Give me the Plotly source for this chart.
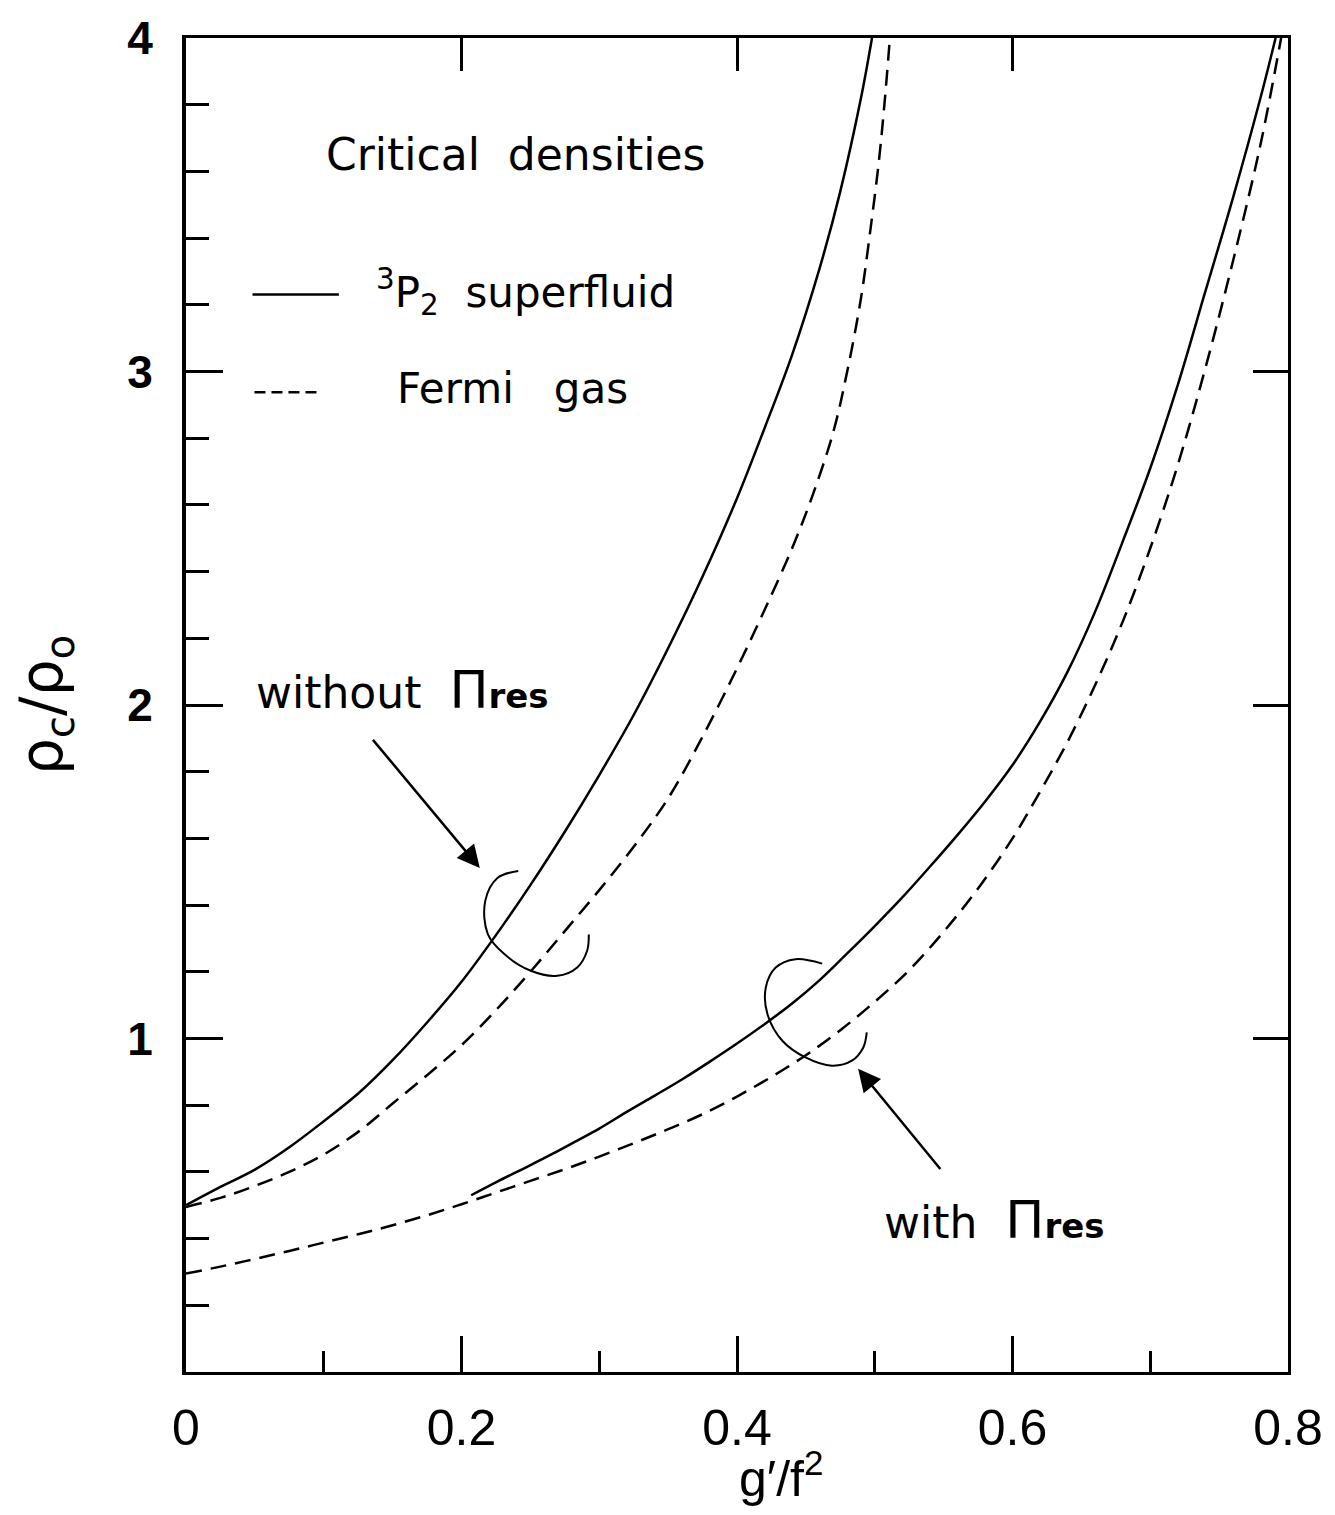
import plotly.graph_objects as go

# ---------------- data ----------------
# 3P2 superfluid, without Pi_res (upper solid)
sf_without_x = [0.00, 0.025, 0.05, 0.075, 0.10, 0.125, 0.15, 0.175, 0.20, 0.225, 0.25, 0.275,
                0.30, 0.325, 0.35, 0.375, 0.40, 0.42, 0.44, 0.46, 0.475, 0.49, 0.498]
sf_without_y = [0.50, 0.555, 0.607, 0.674, 0.752, 0.835, 0.935, 1.048, 1.17, 1.31, 1.46, 1.62,
                1.79, 1.97, 2.17, 2.385, 2.62, 2.83, 3.05, 3.31, 3.54, 3.82, 4.0]

# Fermi gas, without Pi_res (upper dashed)
fg_without_x = [0.00, 0.025, 0.05, 0.075, 0.10, 0.125, 0.15, 0.175, 0.20, 0.225, 0.25, 0.275,
                0.30, 0.325, 0.35, 0.375, 0.40, 0.42, 0.44, 0.455, 0.47, 0.48, 0.49, 0.497,
                0.503, 0.507, 0.511]
fg_without_y = [0.495, 0.522, 0.558, 0.60, 0.652, 0.72, 0.805, 0.89, 0.98, 1.085, 1.20, 1.322,
                1.445, 1.575, 1.72, 1.905, 2.11, 2.285, 2.47, 2.63, 2.82, 3.00, 3.22, 3.43,
                3.63, 3.80, 4.0]

# 3P2 superfluid, with Pi_res (lower solid)
sf_with_x = [0.207, 0.226, 0.248, 0.267, 0.284, 0.30, 0.32, 0.34, 0.36, 0.38, 0.40, 0.42, 0.44,
             0.46, 0.48, 0.50, 0.52, 0.54, 0.56, 0.58, 0.60, 0.62, 0.64, 0.66, 0.68, 0.70,
             0.72, 0.74, 0.76, 0.78, 0.791]
sf_with_y = [0.53, 0.571, 0.616, 0.656, 0.694, 0.73, 0.78, 0.828, 0.877, 0.93, 0.985, 1.043, 1.105,
             1.175, 1.255, 1.337, 1.423, 1.515, 1.61, 1.71, 1.82, 1.95, 2.10, 2.28, 2.49, 2.71,
             2.96, 3.24, 3.52, 3.82, 4.0]

# Fermi gas, with Pi_res (lower dashed)
fg_with_x = [0.00, 0.025, 0.05, 0.075, 0.10, 0.125, 0.15, 0.175, 0.20, 0.225, 0.25, 0.275, 0.30,
             0.325, 0.35, 0.375, 0.40, 0.425, 0.45, 0.475, 0.50, 0.525, 0.55, 0.575, 0.60, 0.62,
             0.64, 0.66, 0.68, 0.70, 0.72, 0.74, 0.76, 0.78, 0.795]
fg_with_y = [0.295, 0.316, 0.339, 0.363, 0.388, 0.413, 0.44, 0.47, 0.503, 0.538, 0.573, 0.608, 0.646,
             0.686, 0.728, 0.773, 0.826, 0.885, 0.95, 1.025, 1.11, 1.205, 1.32, 1.45, 1.60, 1.74,
             1.89, 2.06, 2.25, 2.47, 2.72, 3.01, 3.33, 3.68, 4.0]

x_tick_vals = [0, 0.2, 0.4, 0.6, 0.8]
x_tick_text = ["0", "0.2", "0.4", "0.6", "0.8"]
y_tick_vals = [1, 2, 3, 4]
y_tick_text = ["1", "2", "3", "4"]

# annotation decorations (hand-drawn loops marking each pair of curves)
loop_without_x = [0.2412, 0.2263, 0.2172, 0.2191, 0.2311, 0.2503, 0.2695, 0.2840, 0.2912, 0.2924]
loop_without_y = [1.502, 1.482, 1.412, 1.313, 1.253, 1.203, 1.188, 1.213, 1.263, 1.312]
loop_with_x = [0.4618, 0.4425, 0.4281, 0.4209, 0.4221, 0.4329, 0.4497, 0.4690, 0.4834, 0.4917, 0.4942]
loop_with_y = [1.2245, 1.2377, 1.2126, 1.1527, 1.0732, 0.9933, 0.9433, 0.9185, 0.9334, 0.9732, 1.0181]

# ---------------- figure ----------------
TXT = "DejaVu Sans, Liberation Sans, sans-serif"
NUM = "Liberation Sans, Arial, sans-serif"
BLK = "black"

fig = go.Figure()
fig.add_trace(go.Scatter(x=sf_without_x, y=sf_without_y, mode="lines",
                         line=dict(color=BLK, width=2.5, shape="spline", smoothing=1.0), hoverinfo="skip"))
fig.add_trace(go.Scatter(x=fg_without_x, y=fg_without_y, mode="lines",
                         line=dict(color=BLK, width=2.5, dash="16px,9px", shape="spline", smoothing=1.0),
                         hoverinfo="skip"))
fig.add_trace(go.Scatter(x=sf_with_x, y=sf_with_y, mode="lines",
                         line=dict(color=BLK, width=2.5, shape="spline", smoothing=1.0), hoverinfo="skip"))
fig.add_trace(go.Scatter(x=fg_with_x, y=fg_with_y, mode="lines",
                         line=dict(color=BLK, width=2.5, dash="16px,9px", shape="spline", smoothing=1.0),
                         hoverinfo="skip"))
fig.add_trace(go.Scatter(x=loop_without_x, y=loop_without_y, mode="lines",
                         line=dict(color=BLK, width=2, shape="spline"), hoverinfo="skip"))
fig.add_trace(go.Scatter(x=loop_with_x, y=loop_with_y, mode="lines",
                         line=dict(color=BLK, width=2, shape="spline"), hoverinfo="skip"))
# carrier for the mirrored top/right axes
fig.add_trace(go.Scatter(x=[None], y=[None], xaxis="x2", yaxis="y2", mode="lines", hoverinfo="skip"))

fig.update_layout(
    width=1335, height=1515,
    margin=dict(l=186, r=39, t=35, b=143),
    paper_bgcolor="white", plot_bgcolor="white",
    showlegend=False,
    xaxis=dict(range=[0, 0.8], showline=True, linecolor=BLK, linewidth=3,
               showgrid=False, zeroline=False,
               ticks="inside", tickvals=x_tick_vals, ticktext=x_tick_text,
               ticklen=36, tickwidth=2.5, tickcolor=BLK, ticklabelstandoff=10,
               tickfont=dict(family=NUM, size=50, color=BLK),
               minor=dict(tickvals=[0.1, 0.3, 0.5, 0.7], ticks="inside", ticklen=21,
                          tickwidth=2.5, tickcolor=BLK, showgrid=False)),
    yaxis=dict(range=[0, 4], showline=True, linecolor=BLK, linewidth=4,
               showgrid=False, zeroline=False,
               ticks="inside", tickvals=y_tick_vals, ticktext=y_tick_text,
               ticklen=37, tickwidth=2.5, tickcolor=BLK, ticklabelstandoff=20,
               tickfont=dict(family=NUM, size=46, color=BLK, weight="bold"),
               minor=dict(dtick=0.2, tick0=0, ticks="inside", ticklen=23,
                          tickwidth=2.5, tickcolor=BLK, showgrid=False)),
    xaxis2=dict(overlaying="x", side="top", range=[0, 0.8], showline=True, linecolor=BLK,
                linewidth=3, showgrid=False, zeroline=False, ticks="inside",
                tickvals=[0.2, 0.4, 0.6], ticklen=33, tickwidth=2.5, tickcolor=BLK,
                showticklabels=False),
    yaxis2=dict(overlaying="y", side="right", range=[0, 4], showline=True, linecolor=BLK,
                linewidth=3, showgrid=False, zeroline=False, ticks="inside",
                tickvals=[1, 2, 3], ticklen=35, tickwidth=2.5, tickcolor=BLK,
                showticklabels=False),
)

# legend sample lines
fig.add_shape(type="line", xref="x", yref="y", x0=0.0483, x1=0.111, y0=3.231, y1=3.231,
              line=dict(color=BLK, width=2.5))
fig.add_shape(type="line", xref="x", yref="y", x0=0.0497, x1=0.098, y0=2.938, y1=2.938,
              line=dict(color=BLK, width=2.5, dash="11px,6px"))

NB = "\u00a0"
texts = [
    ("Critical" + NB + NB + "densities", 0.1002, 3.650, 44),
    ("<sup>3</sup>P<sub>2</sub>" + NB + NB + "superfluid", 0.1362, 3.237, 42),
    ("Fermi" + NB + NB + NB + "gas", 0.152, 2.950, 42),
    ("without" + NB + NB + "<span style='font-size:52px'>Π</span><span style='font-size:34px;font-weight:bold'>res</span>",
     0.0497, 2.046, 44),
    ("with" + NB + NB + "<span style='font-size:52px'>Π</span><span style='font-size:34px;font-weight:bold'>res</span>",
     0.5052, 0.4548, 44),
]
for t, x, y, s in texts:
    fig.add_annotation(text=t, x=x, y=y, xref="x", yref="y", xanchor="left", yanchor="middle",
                       showarrow=False, font=dict(family=TXT, size=s, color=BLK))

# arrows
fig.add_annotation(x=0.2133, y=1.511, ax=0.1348, ay=1.90, xref="x", yref="y", axref="x", ayref="y",
                   text="", showarrow=True, arrowhead=2, arrowsize=1.8, arrowwidth=2.5, arrowcolor=BLK)
fig.add_annotation(x=0.4879, y=0.9095, ax=0.5485, ay=0.6043, xref="x", yref="y", axref="x", ayref="y",
                   text="", showarrow=True, arrowhead=2, arrowsize=1.8, arrowwidth=2.5, arrowcolor=BLK)

# axis titles
fig.add_annotation(text="ρ<sub>c</sub>/ρ<sub>o</sub>", xref="paper", yref="paper",
                   x=-0.127, y=0.5, xanchor="center", yanchor="middle", textangle=-90,
                   showarrow=False, font=dict(family=TXT, size=58, color=BLK))
fig.add_annotation(text="g′/f<sup>2</sup>", xref="x", yref="paper",
                   x=0.4317, y=-0.077, xanchor="center", yanchor="middle",
                   showarrow=False, font=dict(family=NUM, size=50, color=BLK))

fig.write_html("out.html")
